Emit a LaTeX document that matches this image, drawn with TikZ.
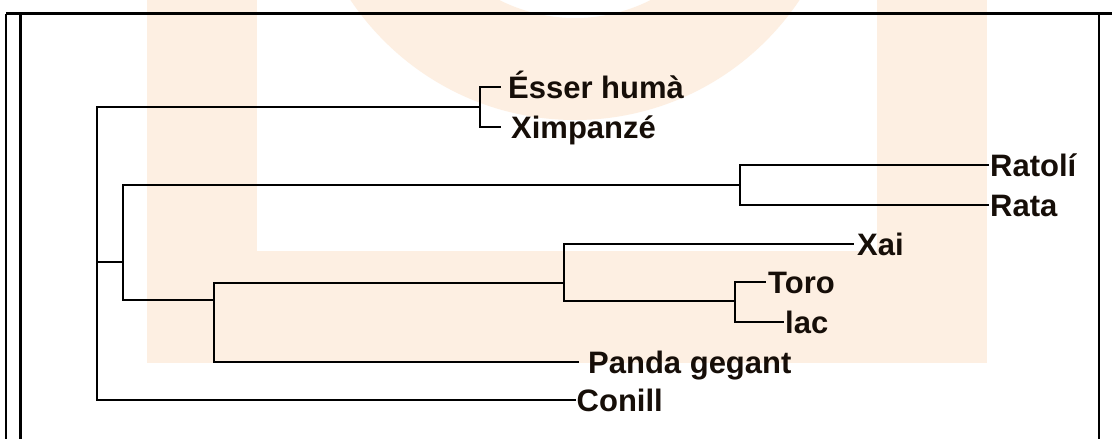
\documentclass[tikz,border=0pt]{standalone}
\usepackage{fontspec}
\setmainfont{Liberation Sans}
\definecolor{peach}{RGB}{253,239,226}
\definecolor{ink}{RGB}{22,14,8}
\begin{document}
\begin{tikzpicture}[x=1pt,y=-1pt,
  branch/.style={draw=black,line width=1.5pt,line cap=rect},
  frameline/.style={draw=black,line width=2.7pt},
  leaf/.style={anchor=west,inner ysep=0pt,inner xsep=#1,text height=22pt,text depth=0pt,
    text=ink,font=\bfseries\fontsize{31}{31}\selectfont},
  leaf/.default=2pt]
\useasboundingbox (0,0) rectangle (1112,439);
\clip (0,0) rectangle (1112,439);
\fill[white] (0,0) rectangle (1112,439);

% background emblem: ring on top, bars below
\fill[peach,even odd rule] (575,-150) circle[radius=270pt] (575,-150) circle[radius=168pt];
\fill[peach] (147,0) rectangle (257,363);
\fill[peach] (877,0) rectangle (987,363);
\fill[peach] (147,251) rectangle (987,363);

% frame
\draw[frameline] (6,13.5) -- (1112,13.5);
\draw[frameline] (6,13.5) -- (6,439);
\draw[frameline] (20.5,13.5) -- (20.5,439);
\draw[frameline] (1099,13.5) -- (1099,439);

% internal nodes of the tree
\coordinate (root) at (97,262);
\coordinate (hum)  at (480,107);
\coordinate (a)    at (123,262);
\coordinate (rod)  at (740,185);
\coordinate (carn) at (214,300);
\coordinate (bx)   at (564,283);
\coordinate (bos)  at (735,301);

% leaves
\node[leaf=8pt]   (esser)  at (500,87)  {Ésser humà};
\node[leaf=11pt]  (ximp)   at (500,127) {Ximpanzé};
\node[leaf=2pt]   (ratoli) at (988,165) {Ratolí};
\node[leaf=2pt]   (rata)   at (988,205) {Rata};
\node[leaf=4pt]   (xai)    at (853,244) {Xai};
\node[leaf=3pt]   (toro)   at (765,282) {Toro};
\node[leaf=2pt]   (lac)    at (783,322) {lac};
\node[leaf=10pt]  (panda)  at (578,362) {Panda gegant};
\node[leaf=1.5pt] (conill) at (575,400) {Conill};

% branches
\draw[branch] (root) |- (hum);
\draw[branch] (root) |- (conill.west);
\draw[branch] (root) -- (a);
\draw[branch] (hum) |- (esser.west);
\draw[branch] (hum) |- (ximp.west);
\draw[branch] (a) |- (rod);
\draw[branch] (a) |- (carn);
\draw[branch] (rod) |- (ratoli.west);
\draw[branch] (rod) |- (rata.west);
\draw[branch] (carn) |- (bx);
\draw[branch] (carn) |- (panda.west);
\draw[branch] (bx) |- (xai.west);
\draw[branch] (bx) |- (bos);
\draw[branch] (bos) |- (toro.west);
\draw[branch] (bos) |- (lac.west);
\end{tikzpicture}
\end{document}
